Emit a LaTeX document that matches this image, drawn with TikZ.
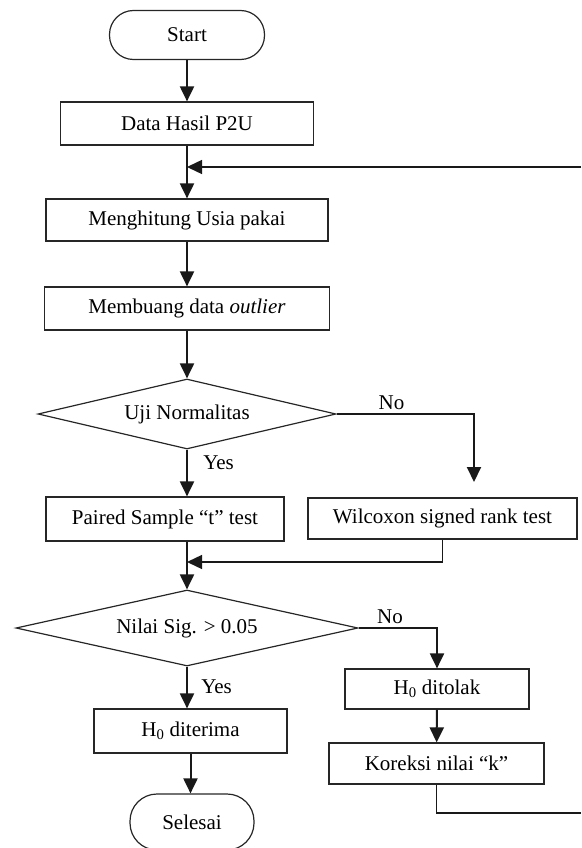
\documentclass[tikz,border=0pt]{standalone}
\usepackage{fontspec}
\setmainfont{Liberation Serif}
\usetikzlibrary{positioning, calc, arrows.meta, shapes.geometric}
\tikzset{
    procbox/.style={rectangle, draw=black!85, line width=1.2pt, fill=white, align=center, inner sep=0pt},
    termnode/.style={rectangle, rounded corners=24pt, draw=black!85, line width=1.2pt, align=center, inner sep=0pt},
    decnode/.style={diamond, draw=black!85, line width=1.2pt, inner sep=0pt, aspect=4.3},
    arrow/.style={-{Triangle[width=14pt,length=15pt]}, line width=2pt, color=black!90},
    loopline/.style={line width=1.4pt, color=black!90},
}

\begin{document}
\begin{tikzpicture}[x=1pt, y=-1pt, font=\fontsize{21}{25}\selectfont]
    \useasboundingbox (0,0) rectangle (581,848);
    \clip (0,0) rectangle (581,848);

    % Alur utama
    \node[termnode, minimum width=155pt, minimum height=49pt] (start) at (187,35) {Start};
    \node[procbox, minimum width=253pt, minimum height=43pt] (data) at (187,123.5) {Data Hasil P2U};
    \node[procbox, minimum width=282pt, minimum height=42pt] (hitung) at (187,220) {Menghitung Usia pakai};
    \node[procbox, minimum width=285pt, minimum height=43pt] (buang) at (187,308.5) {Membuang data \textit{outlier}};
    \node[decnode, minimum width=298pt, minimum height=70pt] (normal) at (187,414) {Uji Normalitas};
    \node[procbox, minimum width=238pt, minimum height=44pt] (paired) at (165,519) {Paired Sample “t” test};
    \node[procbox, minimum width=269pt, minimum height=41pt] (wilcox) at (442.5,518.5) {Wilcoxon signed rank test};
    \node[decnode, minimum width=342pt, minimum height=76pt] (sig) at (187,628) {Nilai Sig. > 0.05};
    \node[procbox, minimum width=193pt, minimum height=44pt] (terima) at (190.5,731) {H\textsubscript{0} diterima};
    \node[procbox, minimum width=184pt, minimum height=40pt] (tolak) at (437,689) {H\textsubscript{0} ditolak};
    \node[procbox, minimum width=215pt, minimum height=41pt] (koreksi) at (436.5,763.5) {Koreksi nilai “k”};
    \node[termnode, rounded corners=27pt, minimum width=124pt, minimum height=56pt] (selesai) at (192,822) {Selesai};

    % Titik bantu
    \coordinate (loopin) at (581,167);
    \coordinate (merge1) at (187,167);
    \coordinate (wcin) at (474,482);
    \coordinate (merge2) at (187,562);
    \coordinate (loopout) at (581,813);

    % Panah
    \draw[arrow] (start) -- (data);
    \draw[arrow] (data) -- (hitung);
    \draw[arrow] (hitung) -- (buang);
    \draw[arrow] (buang) -- (normal);
    \draw[arrow] (normal) -- node[pos=0.27, anchor=west, xshift=12pt, text=black] {Yes} (normal.south |- paired.north);
    \draw[arrow] (normal.east) -| node[pos=0.2, above, text=black] {No} (wcin);
    \draw[arrow] (paired.south -| sig.north) -- (sig.north);
    \draw[arrow, line width=1.4pt] (wilcox.south) |- (merge2);
    \draw[arrow] (sig.east) -| node[pos=0.2, above, text=black] {No} (tolak.north);
    \draw[arrow] (sig) -- node[pos=0.47, anchor=west, xshift=10pt, text=black] {Yes} (sig.south |- terima.north);
    \draw[arrow] (tolak) -- (koreksi);
    \draw[arrow] (terima.south) -- (terima.south |- selesai.north);

    % Garis balik
    \draw[loopline] (koreksi.south) |- (loopout);
    \draw[arrow, line width=1.4pt] (loopin) -- (merge1);
\end{tikzpicture}
\end{document}
